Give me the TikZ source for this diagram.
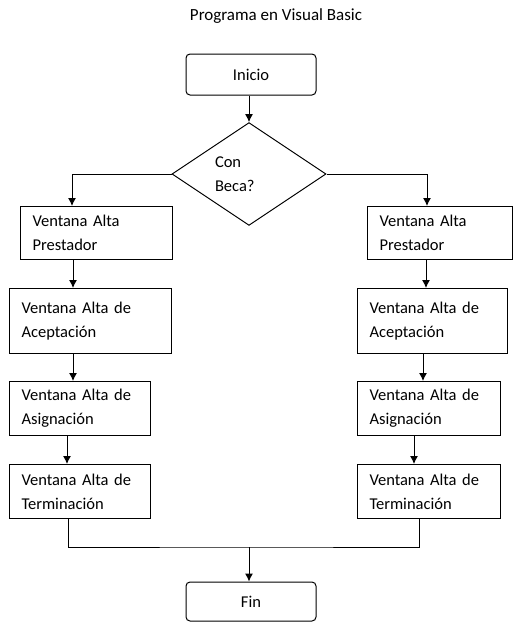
\documentclass[tikz,border=0pt]{standalone}
\usepackage{fontspec}
\setmainfont{Carlito}
\usetikzlibrary{shapes.geometric,arrows.meta}

\tikzset{
  flecha/.style={-{Latex[length=8pt,width=8pt]}, line width=1pt},
  linea/.style={line width=1pt},
  ventana/.style={draw, line width=1pt, rectangle, anchor=north west, align=left,
    inner xsep=12pt, inner ysep=0pt, font=\fontsize{16.5}{24}\selectfont},
  extremo/.style={draw, line width=1pt, rectangle, rounded corners=4pt,
    minimum width=130pt, font=\fontsize{16.5}{24}\selectfont},
}

\begin{document}
\begin{tikzpicture}[x=1pt, y=-1pt]
    \useasboundingbox (0,0) rectangle (513,622);

    % titulo, inicio y decision
    \node[font=\fontsize{17}{20}\selectfont] (titulo) at (276,16) {Programa en Visual Basic};
    \node[extremo, minimum height=41pt] (inicio) at (251,74.5) {Inicio};
    \node[draw, line width=1pt, diamond, minimum width=154pt, minimum height=93pt,
          inner sep=0pt, text width=68pt, align=left,
          font=\fontsize{16.5}{24}\selectfont] (cond) at (249,174) {Con\\Beca?};

    % columna izquierda
    \node[ventana, text width=128pt, minimum height=53pt] (izqA) at (20,206) {Ventana Alta\\Prestador};
    \node[ventana, text width=138pt, minimum height=65pt] (izqB) at (9,288) {Ventana Alta de\\Aceptación};
    \node[ventana, text width=117pt, minimum height=54pt] (izqC) at (9,381) {Ventana Alta de\\Asignación};
    \node[ventana, text width=117pt, minimum height=54pt] (izqD) at (9,464) {Ventana Alta de\\Terminación};

    % columna derecha
    \node[ventana, text width=121pt, minimum height=53pt] (derA) at (367,206) {Ventana Alta\\Prestador};
    \node[ventana, text width=126pt, minimum height=65pt] (derB) at (357,288) {Ventana Alta de\\Aceptación};
    \node[ventana, text width=119pt, minimum height=54pt] (derC) at (357,381) {Ventana Alta de\\Asignación};
    \node[ventana, text width=119pt, minimum height=54pt] (derD) at (357,464) {Ventana Alta de\\Terminación};

    \node[extremo, minimum height=39pt] (fin) at (251,601.5) {Fin};

    % conectores
    \draw[flecha] (cond.north |- inicio.south) -- (cond.north);
    \draw[flecha] (cond.west) -| (izqA.north -| 72,0);
    \draw[flecha] (cond.east) -| (derA.north -| 427,0);

    \draw[flecha] (izqA.south -| 73,0) -- (izqB.north -| 73,0);
    \draw[flecha] (izqB.south -| 73,0) -- (izqC.north -| 73,0);
    \draw[flecha] (izqC.south -| 67,0) -- (izqD.north -| 67,0);

    \draw[flecha] (derA.south -| 426,0) -- (derB.north -| 426,0);
    \draw[flecha] (derB.south -| 423,0) -- (derC.north -| 423,0);
    \draw[flecha] (derC.south -| 414,0) -- (derD.north -| 414,0);

    \coordinate (union) at (249,547);
    \draw[linea] (izqD.south -| 68,0) |- (union) -| (derD.south -| 419,0);
    \draw[flecha] (union) -- (union |- fin.north);
\end{tikzpicture}
\end{document}
